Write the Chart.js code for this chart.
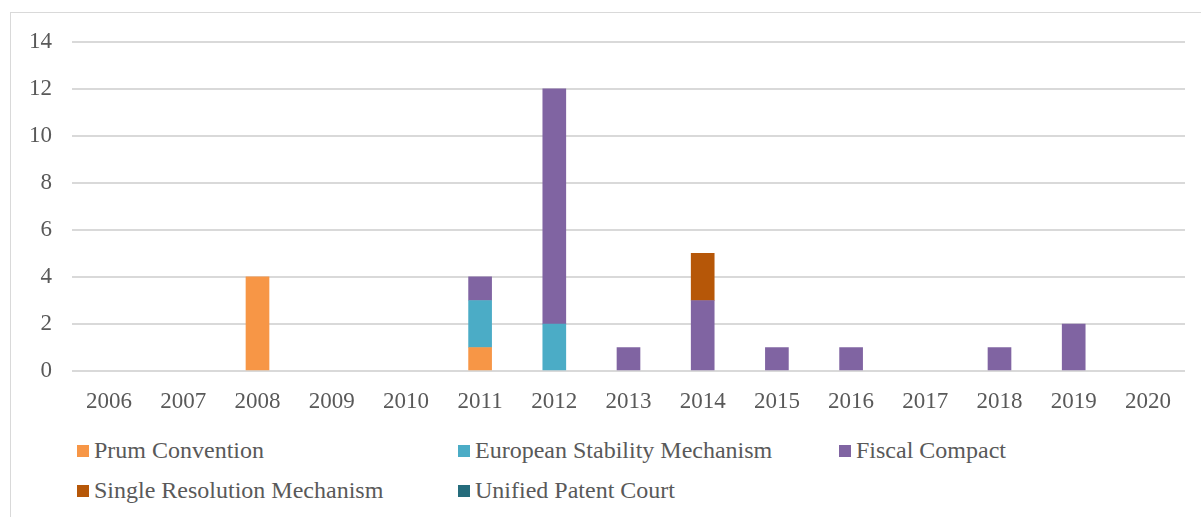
<!DOCTYPE html>
<html lang="en">
<head>
    <meta charset="UTF-8">
    <title>Agreements by year</title>
    <script src="https://cdn.jsdelivr.net/npm/chart.js"></script>
    <style>
        body {
            margin: 0;
            width: 1201px;
            height: 517px;
            overflow: hidden;
            background: #fff;
            font-family: "Liberation Serif", "Times New Roman", serif;
        }
        .frame {
            position: absolute;
            left: 10px;
            top: 12px;
            width: 1200px;
            height: 520px;
            border-left: 1px solid #d9d9d9;
            border-top: 1px solid #d9d9d9;
        }
        .wrap {
            position: absolute;
            left: 10px;
            top: 8px;
            width: 1191px;
            height: 412px;
        }
        #legend {
            position: absolute;
            left: 0;
            top: 0;
        }
        .item {
            position: absolute;
            font-size: 24px;
            color: #595959;
            white-space: nowrap;
            line-height: 24px;
        }
        .item span.sw {
            display: inline-block;
            width: 12px;
            height: 12px;
            margin-right: 5px;
            vertical-align: 1px;
        }
    </style>
</head>
<body>
    <div class="frame"></div>
    <div class="wrap"><canvas id="chart" width="1191" height="412"></canvas></div>
    <div id="legend"></div>

    <script>
        const years = ["2006", "2007", "2008", "2009", "2010", "2011", "2012", "2013", "2014", "2015", "2016", "2017", "2018", "2019", "2020"];
        const prum      = [0, 0, 4, 0, 0, 1, 0, 0, 0, 0, 0, 0, 0, 0, 0];
        const esm       = [0, 0, 0, 0, 0, 2, 2, 0, 0, 0, 0, 0, 0, 0, 0];
        const fiscal    = [0, 0, 0, 0, 0, 1, 10, 1, 3, 1, 1, 0, 1, 2, 0];
        const srm       = [0, 0, 0, 0, 0, 0, 0, 0, 2, 0, 0, 0, 0, 0, 0];
        const upc       = [0, 0, 0, 0, 0, 0, 0, 0, 0, 0, 0, 0, 0, 0, 0];
        const names = ["Prum Convention", "European Stability Mechanism", "Fiscal Compact", "Single Resolution Mechanism", "Unified Patent Court"];
        const colors = ["#F79646", "#4BACC6", "#8064A2", "#B65708", "#256C7C"];
        const yTicks = [0, 2, 4, 6, 8, 10, 12, 14];

        const series = [prum, esm, fiscal, srm, upc];
        const datasets = series.map((d, i) => ({
            label: names[i],
            data: d.map(v => v === 0 ? null : v), // zero bars would leave a hairline
            backgroundColor: colors[i],
            borderWidth: 0,
            barThickness: 23
        }));

        const font = { family: "'Liberation Serif', 'Times New Roman', serif", size: 23 };

        new Chart(document.getElementById("chart"), {
            type: "bar",
            data: { labels: years, datasets: datasets },
            options: {
                responsive: false,
                animation: false,
                layout: { padding: { top: 22, right: 16, left: 0, bottom: 0 } },
                plugins: { legend: { display: false }, tooltip: { enabled: false } },
                scales: {
                    x: {
                        stacked: true,
                        grid: { display: false, drawTicks: false },
                        border: { display: false },
                        ticks: { font: font, color: "#595959", padding: 17, maxRotation: 0, autoSkip: false },
                        afterFit: s => { s.height = 49; }
                    },
                    y: {
                        stacked: true,
                        min: 0,
                        max: 14,
                        afterBuildTicks: s => { s.ticks = yTicks.map(v => ({ value: v })); },
                        grid: { color: "#d9d9d9", lineWidth: 2, drawTicks: false },
                        border: { display: false },
                        ticks: { font: font, color: "#595959", padding: 20 },
                        afterFit: s => { s.width = 62; }
                    }
                }
            }
        });

        // legend laid out in three columns, two rows
        const cols = [77, 458, 839];
        const rows = [438, 478];
        const legend = document.getElementById("legend");
        names.forEach((n, i) => {
            const el = document.createElement("div");
            el.className = "item";
            el.style.left = cols[i % 3] + "px";
            el.style.top = rows[Math.floor(i / 3)] + "px";
            el.innerHTML = '<span class="sw" style="background:' + colors[i] + '"></span>' + n;
            legend.appendChild(el);
        });
    </script>
</body>
</html>
